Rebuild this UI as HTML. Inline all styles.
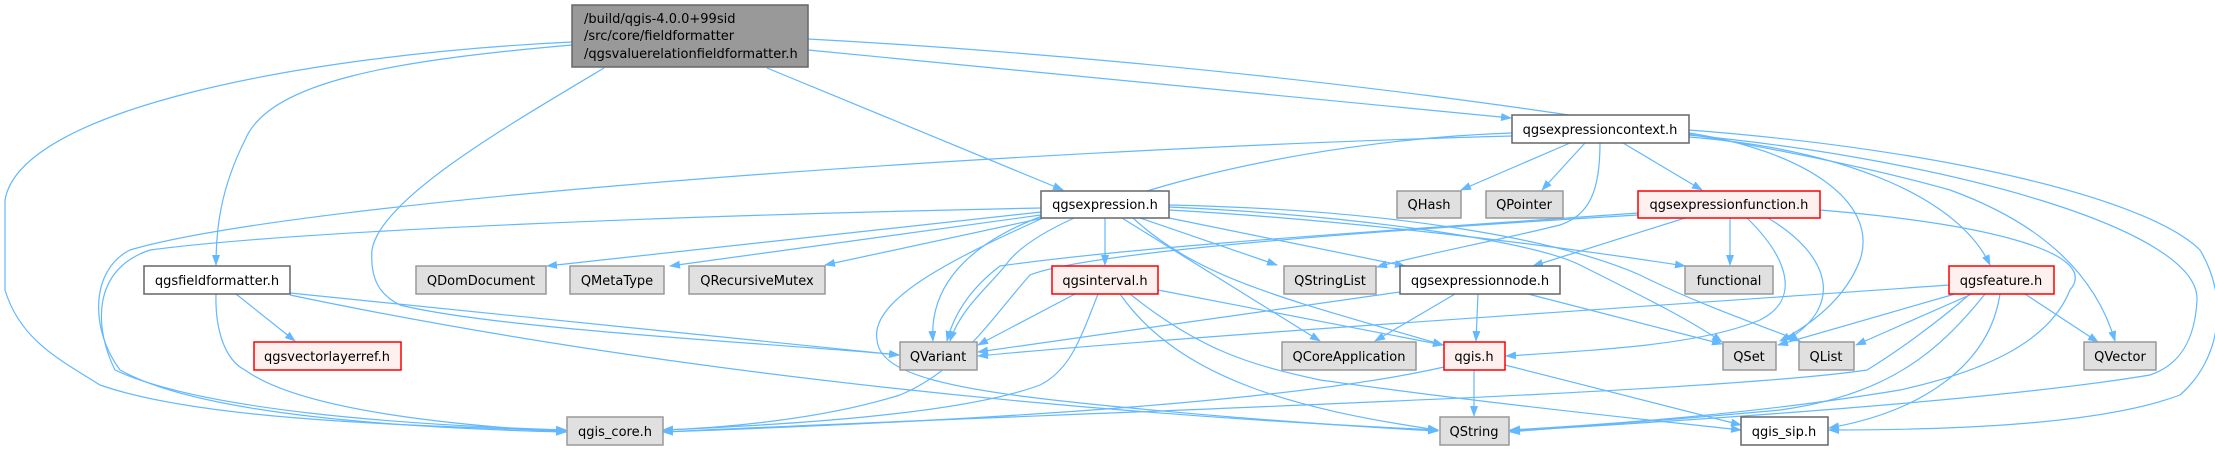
<!DOCTYPE html>
<html><head><meta charset="utf-8"><style>
html,body{margin:0;padding:0;background:#fff;}
svg{display:block;}
text{font-family:"DejaVu Sans","Liberation Sans",sans-serif;font-size:13px;fill:#000;}
.e{fill:none;stroke:#63b8ff;stroke-width:1.2;}
.g{fill:#e0e0e0;stroke:#999;stroke-width:1.5;}
.w{fill:#fff;stroke:#666;stroke-width:1.5;}
.r{fill:#fff0f0;stroke:#f00;stroke-width:1.5;}
.m{fill:#999;stroke:#666;stroke-width:1.5;}
</style></head><body>
<svg width="2215" height="451" viewBox="0 0 2215 451" xmlns="http://www.w3.org/2000/svg">
<defs><marker id="a" markerWidth="11" markerHeight="8" refX="10" refY="4" orient="auto" markerUnits="userSpaceOnUse"><path d="M0,0 L11,4 L0,8 z" fill="#63b8ff"/></marker></defs>
<g class="e" marker-end="url(#a)">
<!-- main -->
<path d="M572,42 C300,55 20,110 5,200 L5,290 C20,340 60,360 100,385 C200,420 400,425 566,431"/>
<path d="M572,45 C400,60 270,80 245,140 C220,190 216,230 216,265"/>
<path d="M604,68 C500,130 380,200 372,250 C370,280 380,295 400,305 C500,330 800,345 899,355"/>
<path d="M767,68 L1063,190"/>
<path d="M808,50 L1511,118"/>
<path d="M808,39 C1200,60 1700,120 1950,190 C2060,230 2100,290 2115,341"/>
<!-- qgsexpressioncontext -->
<path d="M1570,143 L1461,190"/>
<path d="M1585,143 L1542,190"/>
<path d="M1623,143 L1702,190"/>
<path d="M1600,143 C1600,190 1590,215 1560,225 C1500,240 1420,255 1377,267"/>
<path d="M1512,133 C1300,140 1050,200 1005,266 C985,290 960,310 950,341"/>
<path d="M1512,136 C1000,150 300,200 130,250 C90,270 90,330 120,370 C200,415 400,428 566,432"/>
<path d="M1689,133 C1800,150 1880,200 1860,260 C1845,300 1810,325 1780,341"/>
<path d="M1689,137 C1850,150 1960,200 1990,265"/>
<path d="M1689,135 C1950,160 2200,230 2197,300 C2195,340 2180,365 2150,375 C2000,400 1700,420 1510,431"/>
<path d="M1689,130 C1950,150 2150,200 2200,250 C2230,300 2220,360 2180,395 C2100,425 1950,430 1829,430"/>
<!-- qgsexpression -->
<path d="M1041,208 C700,215 300,230 150,250 C90,270 95,330 115,370 C200,410 400,425 566,430"/>
<path d="M1041,212 L547,266"/>
<path d="M1041,215 L670,266"/>
<path d="M1043,218 L825,265"/>
<path d="M1045,215 C950,250 930,300 933,341"/>
<path d="M1043,218 C950,260 870,300 877,340 C880,375 950,390 1100,405 C1250,420 1380,428 1438,431"/>
<path d="M1105,218 L1105,265"/>
<path d="M1140,218 L1277,265"/>
<path d="M1169,218 L1405,266"/>
<path d="M1122,218 L1320,341"/>
<path d="M1133,218 C1200,280 1290,300 1443,345"/>
<path d="M1169,210 C1350,220 1550,245 1685,266"/>
<path d="M1169,207 C1350,215 1530,240 1580,265 C1650,300 1690,320 1722,342"/>
<path d="M1169,205 C1400,210 1560,240 1640,275 C1700,305 1760,325 1800,341"/>
<!-- qgsexpressionfunction -->
<path d="M1685,218 L1533,266"/>
<path d="M1730,218 L1730,265"/>
<path d="M1768,218 C1830,255 1845,305 1787,340"/>
<path d="M1747,218 C1790,260 1800,300 1760,320 C1700,345 1600,350 1506,356"/>
<path d="M1820,210 C2000,225 2100,255 2070,290 C2050,340 1990,370 1900,390 C1750,415 1600,425 1510,430"/>
<path d="M1638,213 C1400,230 1150,245 1000,266 C975,285 955,310 947,341"/>
<path d="M1638,215 C1300,235 1080,255 1030,275 C990,320 960,370 900,395 C820,420 720,428 663,430"/>
<!-- qgsinterval -->
<path d="M1075,294 L978,345"/>
<path d="M1098,294 C1080,340 1070,370 1040,385 C960,415 780,425 663,430"/>
<path d="M1120,294 C1180,380 1300,410 1438,430"/>
<path d="M1158,290 L1443,345"/>
<path d="M1130,294 C1200,350 1250,365 1320,380 C1500,405 1650,420 1741,430"/>
<!-- qgsexpressionnode -->
<path d="M1400,292 L978,352"/>
<path d="M1455,294 L1375,341"/>
<path d="M1478,294 L1476,341"/>
<path d="M1528,294 L1722,344"/>
<!-- qgis.h -->
<path d="M1474,370 L1474,416"/>
<path d="M1444,367 C1300,400 1000,420 663,432"/>
<path d="M1505,365 L1741,425"/>
<!-- qgsfeature -->
<path d="M1949,285 C1600,310 1200,335 978,356"/>
<path d="M1955,294 L1778,345"/>
<path d="M1972,294 L1856,345"/>
<path d="M2025,294 L2098,342"/>
<path d="M2000,294 C1990,360 1930,410 1829,428"/>
<path d="M1985,294 C1940,350 1890,395 1780,410 C1650,422 1550,428 1510,432"/>
<path d="M1970,294 C1940,320 1900,350 1867,370 C1700,395 1000,415 663,432"/>
<!-- qgsfieldformatter -->
<path d="M236,294 L295,341"/>
<path d="M216,294 C215,330 225,360 245,370 C300,410 450,425 566,432"/>
<path d="M290,293 L899,355"/>
<path d="M290,295 C600,360 1000,410 1438,430"/>
</g>
<!-- nodes -->
<rect class="m" x="572" y="5" width="236" height="62"/>
<text x="584" y="23">/build/qgis-4.0.0+99sid</text>
<text x="584" y="40">/src/core/fieldformatter</text>
<text x="584" y="58">/qgsvaluerelationfieldformatter.h</text>
<g text-anchor="middle">
<rect class="w" x="1512" y="115" width="177" height="28"/><text x="1600" y="134">qgsexpressioncontext.h</text>
<rect class="w" x="1041" y="191" width="128" height="27"/><text x="1105" y="209">qgsexpression.h</text>
<rect class="g" x="1397" y="191" width="64" height="27"/><text x="1429" y="209">QHash</text>
<rect class="g" x="1486" y="191" width="77" height="27"/><text x="1524" y="209">QPointer</text>
<rect class="r" x="1638" y="191" width="182" height="27"/><text x="1729" y="209">qgsexpressionfunction.h</text>
<rect class="w" x="144" y="266" width="146" height="28"/><text x="217" y="285">qgsfieldformatter.h</text>
<rect class="g" x="416" y="266" width="130" height="28"/><text x="481" y="285">QDomDocument</text>
<rect class="g" x="570" y="266" width="94" height="28"/><text x="617" y="285">QMetaType</text>
<rect class="g" x="689" y="266" width="136" height="28"/><text x="757" y="285">QRecursiveMutex</text>
<rect class="r" x="1052" y="266" width="106" height="28"/><text x="1105" y="285">qgsinterval.h</text>
<rect class="g" x="1284" y="266" width="92" height="28"/><text x="1330" y="285">QStringList</text>
<rect class="w" x="1400" y="266" width="160" height="28"/><text x="1480" y="285">qgsexpressionnode.h</text>
<rect class="g" x="1685" y="266" width="88" height="28"/><text x="1729" y="285">functional</text>
<rect class="r" x="1949" y="266" width="105" height="28"/><text x="2001" y="285">qgsfeature.h</text>
<rect class="r" x="254" y="342" width="147" height="28"/><text x="327" y="361">qgsvectorlayerref.h</text>
<rect class="g" x="900" y="342" width="77" height="28"/><text x="938" y="361">QVariant</text>
<rect class="g" x="1282" y="342" width="134" height="28"/><text x="1349" y="361">QCoreApplication</text>
<rect class="r" x="1444" y="342" width="61" height="28"/><text x="1474" y="361">qgis.h</text>
<rect class="g" x="1723" y="342" width="53" height="28"/><text x="1749" y="361">QSet</text>
<rect class="g" x="1799" y="342" width="55" height="28"/><text x="1826" y="361">QList</text>
<rect class="g" x="2084" y="342" width="72" height="28"/><text x="2120" y="361">QVector</text>
<rect class="g" x="567" y="417" width="96" height="28"/><text x="615" y="436">qgis_core.h</text>
<rect class="g" x="1440" y="417" width="69" height="28"/><text x="1474" y="436">QString</text>
<rect class="w" x="1741" y="417" width="87" height="28"/><text x="1784" y="436">qgis_sip.h</text>
</g>
</svg>
</body></html>
